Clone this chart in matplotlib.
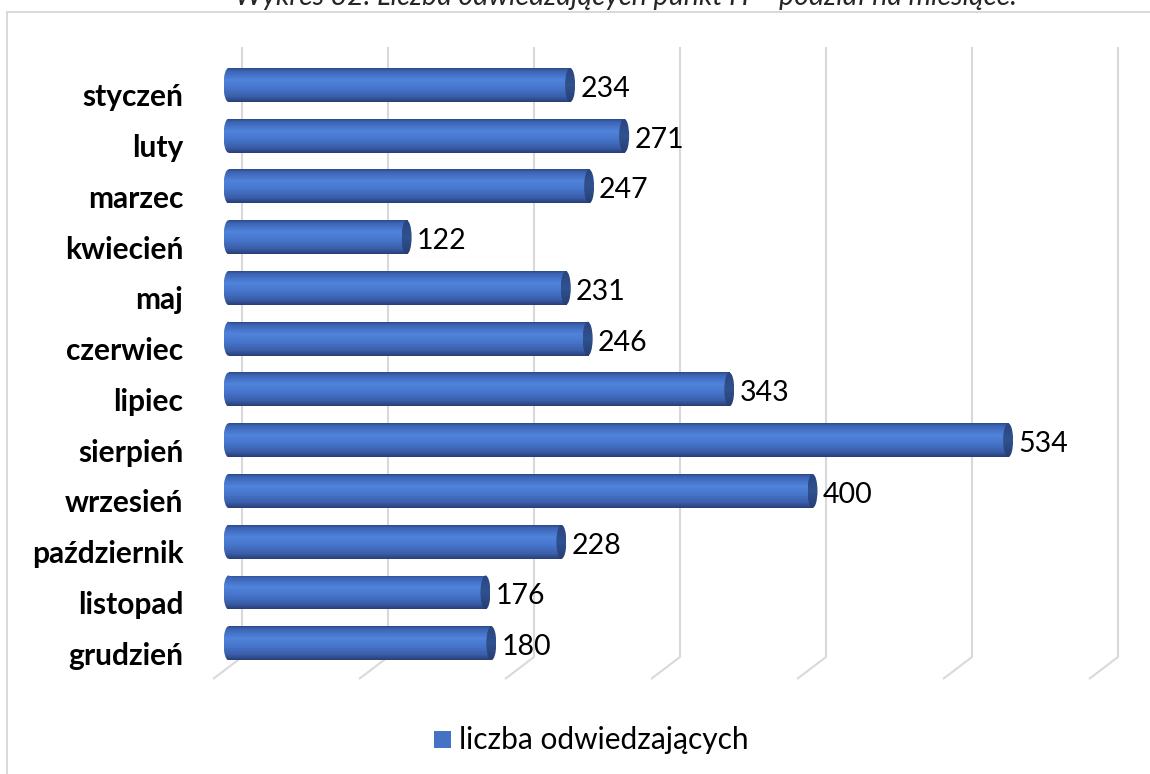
import numpy as np
import matplotlib
matplotlib.use("Agg")
import matplotlib.pyplot as plt
import matplotlib.transforms as mtransforms
from matplotlib.patches import Ellipse, Rectangle
from matplotlib.colors import LinearSegmentedColormap

# Dane: liczba odwiedzających w poszczególnych miesiącach
miesiace = ["styczeń", "luty", "marzec", "kwiecień", "maj", "czerwiec",
            "lipiec", "sierpień", "wrzesień", "październik", "listopad", "grudzień"]
odwiedzajacy = [234, 271, 247, 122, 231, 246, 343, 534, 400, 228, 176, 180]
siatka = [0, 100, 200, 300, 400, 500, 600]

tytul = "Wykres 32. Liczba odwiedzających punkt H – podział na miesiące."
seria = "liczba odwiedzających"

W, H = 1150, 774
fig = plt.figure(figsize=(W / 100, H / 100), dpi=100)
fig.patch.set_facecolor("white")

# ramka wykresu i tytuł (ucięty u góry)
fig.patches.append(Rectangle((7 / W, -0.05), 1.1, 1 - 12 / H + 0.05,
                             transform=fig.transFigure, fill=False,
                             edgecolor="#D9D9D9", linewidth=1.4))
fig.text(626 / W, 1 - 5 / H, tytul, ha="center", va="baseline",
         fontsize=20.5, style="italic", family="Lato", color="#262626")

# obszar kreślenia: 1.46 px na jednostkę
px = 1.46
x0_px = 228.5
left, right, top, bottom = 200, 1140, 40, 690
ax = fig.add_axes([left / W, 1 - bottom / H, (right - left) / W, (bottom - top) / H])
row = 50.75
for s in ax.spines.values():
    s.set_visible(False)
ax.set_xticks([])
ax.set_yticks(range(len(miesiace)))
ax.set_yticklabels(miesiace, fontsize=21.5, fontweight="bold", family="Lato")
ax.tick_params(axis="y", length=0, pad=12)
# etykiety kategorii leżą nieco niżej (przód podłogi)
shift = mtransforms.ScaledTranslation(0, -10 / 100, fig.dpi_scale_trans)
for lab in ax.get_yticklabels():
    lab.set_transform(lab.get_transform() + shift)

# linie siatki: tylna ściana + podłoga w perspektywie
back = (242 - x0_px) / px
front = (213 - x0_px) / px
y_top, y_floor, y_front = (47 - 85) / row, (657 - 85) / row, (679 - 85) / row
for g in siatka:
    ax.plot([g + back, g + back, g + front], [y_top, y_floor, y_front],
            color="#D9D9D9", linewidth=1.5, zorder=1, solid_capstyle="butt")

# walce
body = LinearSegmentedColormap.from_list("walec", [
    (0.0, "#2C4A88"), (0.07, "#3B63B2"), (0.35, "#5083DC"),
    (0.6, "#4675CB"), (0.85, "#3A5EA8"), (1.0, "#293F78")])
cap = LinearSegmentedColormap.from_list("dno", [
    (0.0, "#2A4580"), (0.5, "#30528F"), (1.0, "#263E74")])
grad = np.linspace(0, 1, 64).reshape(-1, 1)
h = 34 / row
cap_w = 10 / px

bars = ax.barh(range(len(miesiace)), odwiedzajacy, height=h,
               color="none", edgecolor="none", zorder=2)
for i, (b, v) in enumerate(zip(bars, odwiedzajacy)):
    ext = [-cap_w / 2, v, i + h / 2, i - h / 2]
    im = ax.imshow(grad, cmap=body, extent=ext, aspect="auto",
                   interpolation="bilinear", zorder=3)
    im.set_clip_path(b)
    lewy = Ellipse((0, i), cap_w, h, facecolor="none", edgecolor="none")
    ax.add_patch(lewy)
    im2 = ax.imshow(grad, cmap=body, extent=ext, aspect="auto",
                    interpolation="bilinear", zorder=3)
    im2.set_clip_path(lewy)
    prawy = Ellipse((v, i), cap_w, h, facecolor="none", edgecolor="none")
    ax.add_patch(prawy)
    im3 = ax.imshow(grad, cmap=cap, extent=[v - cap_w / 2, v + cap_w / 2, i + h / 2, i - h / 2],
                    aspect="auto", interpolation="bilinear", zorder=4)
    im3.set_clip_path(prawy)
    ax.text(v + 10 / px, i + 4 / row, str(v), ha="left", va="center",
            fontsize=20.5, family="Lato", color="black", zorder=5)

ax.set_xlim((left - x0_px) / px, (right - x0_px) / px)
ax.set_ylim((bottom - 85) / row, (top - 85) / row)

# legenda
fig.patches.append(Rectangle((434 / W, 1 - 748 / H), 17 / W, 17 / H,
                             transform=fig.transFigure, facecolor="#4472C4",
                             edgecolor="none"))
fig.text(459 / W, 1 - 740 / H, seria, ha="left", va="center",
         fontsize=21.5, family="Lato", color="black")

fig.savefig("out.png", dpi=100, facecolor="white")
